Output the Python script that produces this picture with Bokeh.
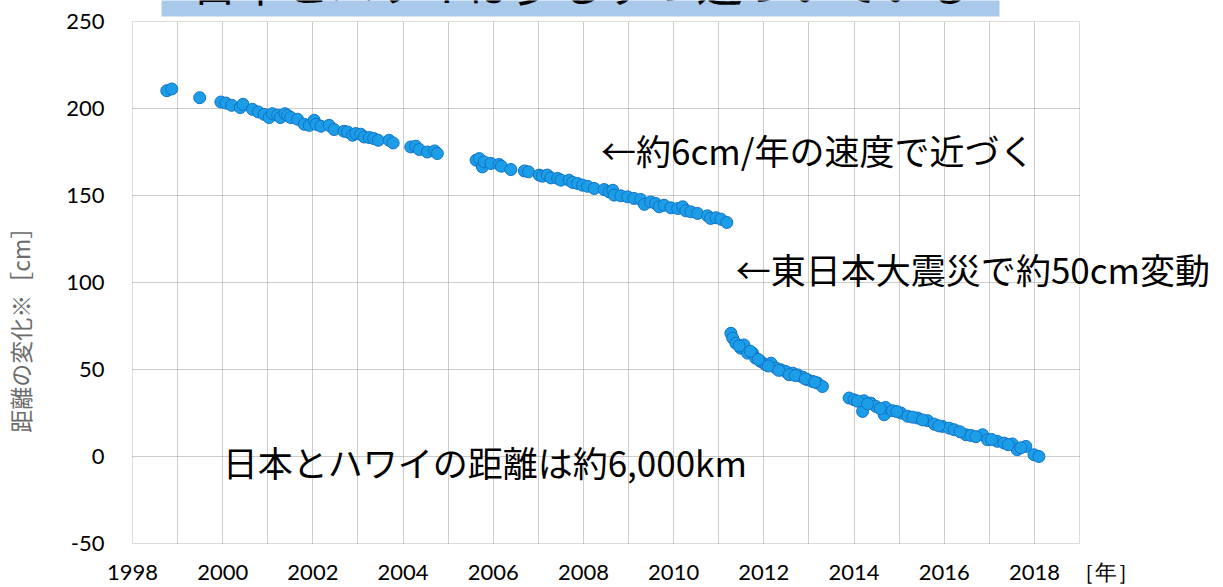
from bokeh.plotting import figure
from bokeh.models import FixedTicker, Label, ColumnDataSource, Grid, BoxAnnotation
from bokeh.embed import file_html
from bokeh.resources import INLINE

# ---- data ----
years_a = [1998.76, 1998.87, 1999.49, 1999.96, 2000.07, 2000.20, 2000.39, 2000.45, 2000.66, 2000.79,
           2000.92, 2001.03, 2001.10, 2001.22, 2001.28, 2001.38, 2001.44, 2001.51, 2001.66, 2001.81,
           2001.92, 2002.03, 2002.07, 2002.18, 2002.36, 2002.47, 2002.69, 2002.77, 2002.88, 2002.95,
           2003.06, 2003.14, 2003.25, 2003.35, 2003.45, 2003.69, 2003.78, 2004.17, 2004.28, 2004.36,
           2004.54, 2004.70, 2004.76]
dist_a = [210.2, 211.2, 206.2, 203.7, 203.1, 201.8, 200.5, 202.4, 199.5, 198.0,
          196.6, 194.8, 197.0, 196.1, 194.8, 197.0, 196.0, 194.8, 193.8, 190.9,
          190.3, 193.2, 190.9, 189.8, 190.3, 187.9, 186.9, 186.5, 184.6, 185.6,
          185.2, 183.6, 183.3, 182.7, 181.7, 181.7, 180.2, 177.9, 178.3, 176.4,
          175.0, 175.6, 174.1]

years_b = [2005.62, 2005.69, 2005.76, 2005.80, 2005.95, 2006.13, 2006.18, 2006.39, 2006.69, 2006.78,
           2007.02, 2007.09, 2007.20, 2007.28, 2007.43, 2007.50, 2007.68, 2007.76, 2007.87, 2007.98,
           2008.09, 2008.24, 2008.46, 2008.57, 2008.65, 2008.68, 2008.83, 2008.98, 2009.12, 2009.27,
           2009.35, 2009.49, 2009.60, 2009.68, 2009.79, 2009.94, 2010.09, 2010.20, 2010.27, 2010.38,
           2010.53, 2010.75, 2010.82, 2010.94, 2011.05, 2011.18]
dist_b = [170.3, 171.2, 166.4, 169.3, 168.4, 167.8, 166.8, 164.9, 164.1, 163.6,
          161.7, 161.1, 161.7, 160.1, 159.8, 158.8, 158.8, 157.5, 156.9, 155.9,
          155.3, 154.0, 153.4, 152.1, 153.0, 150.2, 149.8, 149.2, 148.3, 147.7,
          144.9, 146.3, 145.4, 143.5, 144.4, 142.9, 142.5, 143.5, 141.2, 140.6,
          139.7, 138.3, 136.8, 137.2, 136.4, 134.5]

years_c = [2011.27, 2011.31, 2011.38, 2011.49, 2011.56, 2011.64, 2011.75, 2011.82, 2011.93, 2012.04,
           2012.16, 2012.27, 2012.38, 2012.49, 2012.64, 2012.75, 2012.86, 2012.97, 2013.08, 2013.19,
           2013.30, 2011.45, 2011.70, 2011.88, 2012.10, 2012.33, 2012.56, 2012.70, 2012.92, 2013.13]
dist_c = [70.8, 68.0, 65.1, 62.2, 64.1, 59.4, 59.4, 56.5, 54.6, 52.7,
          53.6, 50.8, 49.8, 48.8, 47.9, 46.9, 45.6, 44.1, 43.1, 42.2,
          40.2, 63.5, 60.5, 55.8, 52.0, 49.5, 47.0, 46.5, 44.6, 42.8]

years_d = [2013.89, 2014.00, 2014.19, 2014.22, 2014.37, 2014.48, 2014.67, 2014.70, 2014.85, 2015.04,
           2015.19, 2015.41, 2015.63, 2015.78, 2015.96, 2016.11, 2016.22, 2016.48, 2016.59, 2016.85,
           2016.96, 2017.18, 2017.33, 2017.51, 2017.62, 2017.81, 2017.99, 2018.10,
           2014.08, 2014.30, 2014.58, 2014.95, 2015.30, 2015.52, 2015.88, 2016.35, 2016.70, 2017.05,
           2017.42, 2017.70]
dist_d = [33.6, 32.6, 25.9, 32.0, 30.7, 28.8, 24.0, 28.2, 26.3, 25.0,
          23.1, 22.1, 20.6, 18.6, 17.3, 16.3, 15.4, 12.5, 12.1, 12.5,
          9.6, 8.7, 7.7, 7.2, 3.9, 5.8, 1.0, 0.0,
          31.8, 30.2, 27.5, 25.8, 22.6, 21.0, 17.6, 14.2, 11.4, 9.8,
          6.8, 5.0]

x_start, x_end = 1998, 2019
y_start, y_end = -50, 250
x_grid_years = list(range(1999, 2019))
x_tick_years = list(range(1998, 2019, 2))
y_ticks = [-50, 0, 50, 100, 150, 200, 250]
y_grid = [0, 50, 100, 150, 200]

title_text = "日本とハワイは少しずつ近づいている"
y_label = "距離の変化※［cm］"
x_unit = "［年］"
x_unit_pos = 2019.58
note_rate = "←約6cm/年の速度で近づく"
note_quake = "←東日本大震災で約50cm変動"
note_dist = "日本とハワイの距離は約6,000km"

# ---- figure: plot area runs to the right and top canvas edges so the
# notes and the banner can overflow the data box as in the reference ----
W, H = 1223, 587
left, bottom = 131, 42
px_per_year = (1079 - 132) / (x_end - x_start)
px_per_cm = (544 - 21) / (y_end - y_start)
x0 = x_start - 1 / px_per_year
y0 = y_start - 1 / px_per_cm
xr = (x0, x0 + (W - left) / px_per_year)
yr = (y0, y0 + (H - bottom) / px_per_cm)

p = figure(width=W, height=H, output_backend="svg", toolbar_location=None,
           x_range=xr, y_range=yr,
           min_border_left=left, min_border_right=0, min_border_top=0, min_border_bottom=bottom)
p.background_fill_color = "white"
p.border_fill_color = "white"
p.outline_line_color = None

p.xaxis.ticker = FixedTicker(ticks=x_tick_years + [x_unit_pos])
p.xaxis.major_label_overrides = {x_unit_pos: x_unit}
p.yaxis.ticker = FixedTicker(ticks=y_ticks)
p.yaxis.major_label_overrides = {t: str(t) for t in y_ticks}

grid_color = "#9a9a9a"
if "cross_bounds" in Grid.properties():
    p.xgrid.ticker = FixedTicker(ticks=x_grid_years)
    p.xgrid.cross_bounds = (y_start, y_end)
    p.ygrid.ticker = FixedTicker(ticks=y_grid)
    p.ygrid.cross_bounds = (x_start, x_end)
    for g in (p.xgrid, p.ygrid):
        g.grid_line_color = grid_color
        g.grid_line_dash = "1 1"
        g.grid_line_width = 1
else:
    p.xgrid.visible = False
    p.ygrid.visible = False
    p.segment(x0=x_grid_years, y0=[y_start] * len(x_grid_years),
              x1=x_grid_years, y1=[y_end] * len(x_grid_years),
              line_color=grid_color, line_dash="1 1", line_width=1)
    p.segment(x0=[x_start] * len(y_grid), y0=y_grid, x1=[x_end] * len(y_grid), y1=y_grid,
              line_color=grid_color, line_dash="1 1", line_width=1)

# solid frame around the data box
p.add_layout(BoxAnnotation(left=x_start, right=x_end, bottom=y_start, top=y_end,
                           fill_alpha=0, line_color="#8c8c8c", line_width=1, level="underlay"))

for ax in (p.xaxis, p.yaxis):
    ax.axis_line_color = None
    ax.major_tick_line_color = None
    ax.minor_tick_line_color = None
    ax.major_tick_in = 0
    ax.major_tick_out = 0
    ax.minor_tick_in = 0
    ax.minor_tick_out = 0
    ax.major_label_text_font = "Lato"
    ax.major_label_text_font_size = "22px"
    ax.major_label_text_color = "black"

p.xaxis.major_label_standoff = 13
p.yaxis.major_label_standoff = 27
p.yaxis.axis_label = y_label + "\u3000" * 5
p.yaxis.axis_label_text_font = "Noto Sans CJK JP"
p.yaxis.axis_label_text_font_size = "23px"
p.yaxis.axis_label_text_font_style = "normal"
p.yaxis.axis_label_text_color = "#6b6b6b"
p.yaxis.axis_label_standoff = 26

all_years = years_a + years_b + years_c + years_d
all_dist = dist_a + dist_b + dist_c + dist_d
src = ColumnDataSource(dict(x=all_years, y=all_dist))
p.scatter("x", "y", source=src, size=12, marker="circle",
          fill_color="#1c9de8", line_color="#1273c6", line_width=1)

# title banner (mostly above the page, as in the reference)
p.add_layout(Label(x=1998.643, y=252.9, text=title_text, text_font="Noto Sans CJK JP",
                   text_font_size="46px", text_color="black", text_baseline="bottom",
                   background_fill_color="#a9c9ea",
                   padding=dict(left=30, right=26, top=4, bottom=2)))

p.add_layout(Label(x=2008.39, y=176.4, text=note_rate, text_font="Noto Sans CJK JP",
                   text_font_size="35px", text_color="black", text_baseline="middle"))
p.add_layout(Label(x=2011.38, y=108.3, text=note_quake, text_font="Noto Sans CJK JP",
                   text_font_size="35px", text_color="black", text_baseline="middle"))
p.add_layout(Label(x=2000.0, y=-2.6, text=note_dist, text_font="Noto Sans CJK JP",
                   text_font_size="35px", text_color="black", text_baseline="middle"))

open("out.html", "w").write(file_html(p, INLINE))
